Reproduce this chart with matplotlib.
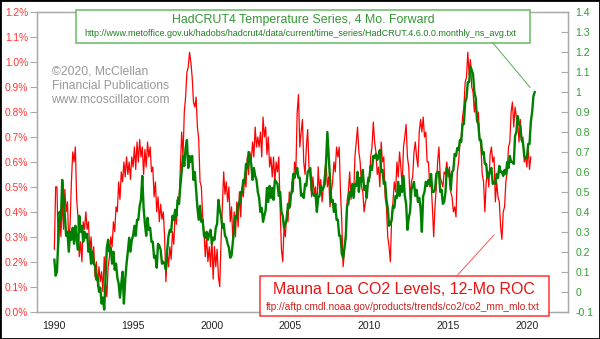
import numpy as np
import matplotlib
matplotlib.use("Agg")
import matplotlib.pyplot as plt
from matplotlib.patches import Rectangle
from matplotlib.lines import Line2D

plt.rcParams['font.family'] = ['Liberation Sans', 'DejaVu Sans']

# ------------------ DATA (monthly, starting Jan 1990) ------------------

START_YEAR = 1990

# Mauna Loa CO2, 12-month rate of change, in percent (left axis)
co2_roc = [
    0.25, 0.50, 0.50, 0.24, 0.40, 0.30, 0.45, 0.33, 0.49, 0.40, 0.44, 0.27,  # 1990
    0.35, 0.52, 0.64, 0.60, 0.66, 0.45, 0.38, 0.22, 0.28, 0.20, 0.36, 0.33,  # 1991
    0.40, 0.33, 0.36, 0.24, 0.30, 0.20, 0.26, 0.14, 0.20, 0.10, 0.18, 0.12,  # 1992
    0.16, 0.08, 0.22, 0.12, 0.06, 0.18, 0.22, 0.30, 0.26, 0.36, 0.32, 0.42,  # 1993
    0.40, 0.52, 0.45, 0.56, 0.52, 0.60, 0.54, 0.62, 0.55, 0.60, 0.53, 0.62,  # 1994
    0.58, 0.66, 0.57, 0.68, 0.60, 0.69, 0.62, 0.66, 0.55, 0.65, 0.58, 0.68,  # 1995
    0.62, 0.66, 0.56, 0.58, 0.46, 0.52, 0.40, 0.46, 0.36, 0.43, 0.37, 0.40,  # 1996
    0.30, 0.12, 0.24, 0.18, 0.26, 0.21, 0.32, 0.27, 0.40, 0.35, 0.46, 0.44,  # 1997
    0.58, 0.72, 0.62, 0.80, 0.86, 0.96, 0.98, 1.04, 1.00, 0.94, 0.84, 0.82,  # 1998
    0.86, 0.74, 0.69, 0.52, 0.50, 0.38, 0.32, 0.22, 0.30, 0.20, 0.26, 0.18,  # 1999
    0.30, 0.13, 0.26, 0.18, 0.25, 0.14, 0.10, 0.28, 0.42, 0.56, 0.47, 0.52,  # 2000
    0.44, 0.50, 0.36, 0.42, 0.28, 0.40, 0.30, 0.44, 0.34, 0.48, 0.38, 0.50,  # 2001
    0.46, 0.54, 0.50, 0.62, 0.55, 0.64, 0.60, 0.68, 0.62, 0.74, 0.66, 0.70,  # 2002
    0.66, 0.72, 0.62, 0.78, 0.70, 0.74, 0.63, 0.70, 0.58, 0.62, 0.54, 0.62,  # 2003
    0.52, 0.60, 0.56, 0.62, 0.42, 0.25, 0.20, 0.34, 0.30, 0.40, 0.36, 0.48,  # 2004
    0.42, 0.52, 0.48, 0.60, 0.56, 0.80, 0.87, 0.66, 0.72, 0.77, 0.60, 0.55,  # 2005
    0.66, 0.73, 0.58, 0.54, 0.46, 0.54, 0.47, 0.50, 0.40, 0.58, 0.49, 0.53,  # 2006
    0.44, 0.50, 0.56, 0.60, 0.50, 0.54, 0.42, 0.48, 0.52, 0.60, 0.56, 0.66,  # 2007
    0.62, 0.66, 0.48, 0.36, 0.18, 0.24, 0.32, 0.44, 0.48, 0.56, 0.45, 0.50,  # 2008
    0.46, 0.62, 0.68, 0.74, 0.64, 0.60, 0.50, 0.48, 0.40, 0.44, 0.46, 0.54,  # 2009
    0.52, 0.62, 0.66, 0.76, 0.68, 0.64, 0.55, 0.58, 0.50, 0.68, 0.60, 0.62,  # 2010
    0.46, 0.42, 0.30, 0.26, 0.20, 0.38, 0.44, 0.52, 0.48, 0.60, 0.54, 0.64,  # 2011
    0.58, 0.50, 0.66, 0.70, 0.75, 0.62, 0.58, 0.45, 0.52, 0.54, 0.64, 0.68,  # 2012
    0.62, 0.58, 0.72, 0.77, 0.72, 0.78, 0.70, 0.72, 0.60, 0.60, 0.50, 0.52,  # 2013
    0.42, 0.30, 0.42, 0.50, 0.60, 0.66, 0.54, 0.52, 0.50, 0.56, 0.55, 0.60,  # 2014
    0.54, 0.58, 0.48, 0.46, 0.40, 0.42, 0.38, 0.56, 0.60, 0.68, 0.70, 0.78,  # 2015
    0.82, 0.92, 0.94, 1.04, 0.95, 1.01, 0.90, 0.88, 0.80, 0.86, 0.76, 0.80,  # 2016
    0.70, 0.66, 0.55, 0.52, 0.40, 0.52, 0.56, 0.50, 0.63, 0.66, 0.60, 0.62,  # 2017
    0.44, 0.52, 0.46, 0.44, 0.34, 0.29, 0.40, 0.42, 0.52, 0.56, 0.66, 0.68,  # 2018
    0.80, 0.84, 0.74, 0.82, 0.78, 0.76, 0.68, 0.77, 0.68, 0.70, 0.60, 0.62,  # 2019
    0.58, 0.66, 0.57, 0.62,                                                  # 2020
]

# HadCRUT4 temperature anomaly, shifted 4 months forward (right axis)
hadcrut = [
    0.16, 0.08, 0.10, 0.26, 0.40, 0.36, 0.56, 0.46, 0.38, 0.28, 0.30, 0.20,  # 1990
    0.30, 0.26, 0.32, 0.24, 0.33, 0.26, 0.21, 0.38, 0.30, 0.33, 0.25, 0.30,  # 1991
    0.27, 0.29, 0.20, 0.22, 0.14, 0.20, 0.14, 0.13, 0.06, 0.07, 0.00, 0.02,  # 1992
    -0.06, -0.03, -0.09, 0.06, 0.22, 0.26, 0.20, 0.22, 0.14, 0.20, 0.11, 0.14,  # 1993
    0.07, 0.04, -0.03, 0.04, 0.10, -0.06, 0.06, 0.14, 0.20, 0.27, 0.20, 0.26,  # 1994
    0.28, 0.33, 0.28, 0.36, 0.36, 0.43, 0.46, 0.58, 0.42, 0.34, 0.28, 0.37,  # 1995
    0.31, 0.32, 0.25, 0.25, 0.17, 0.18, 0.12, 0.24, 0.23, 0.21, 0.14, 0.15,  # 1996
    0.14, 0.11, 0.21, 0.28, 0.31, 0.30, 0.38, 0.36, 0.41, 0.38, 0.46, 0.44,  # 1997
    0.53, 0.60, 0.68, 0.63, 0.72, 0.76, 0.62, 0.68, 0.65, 0.68, 0.56, 0.60,  # 1998
    0.51, 0.42, 0.36, 0.43, 0.35, 0.36, 0.28, 0.27, 0.30, 0.26, 0.29, 0.31,  # 1999
    0.24, 0.27, 0.26, 0.32, 0.34, 0.46, 0.41, 0.38, 0.32, 0.34, 0.28, 0.27,  # 2000
    0.24, 0.22, 0.17, 0.18, 0.25, 0.31, 0.38, 0.37, 0.44, 0.44, 0.50, 0.50,  # 2001
    0.56, 0.55, 0.64, 0.62, 0.70, 0.67, 0.64, 0.56, 0.62, 0.58, 0.56, 0.50,  # 2002
    0.47, 0.40, 0.42, 0.35, 0.38, 0.41, 0.52, 0.45, 0.53, 0.47, 0.52, 0.46,  # 2003
    0.56, 0.55, 0.54, 0.48, 0.50, 0.40, 0.38, 0.32, 0.34, 0.36, 0.44, 0.42,  # 2004
    0.48, 0.50, 0.59, 0.57, 0.60, 0.62, 0.57, 0.57, 0.48, 0.49, 0.47, 0.54,  # 2005
    0.53, 0.60, 0.61, 0.62, 0.51, 0.49, 0.48, 0.49, 0.40, 0.47, 0.48, 0.53,  # 2006
    0.51, 0.52, 0.54, 0.65, 0.80, 0.68, 0.57, 0.45, 0.46, 0.40, 0.44, 0.36,  # 2007
    0.36, 0.28, 0.28, 0.19, 0.17, 0.22, 0.27, 0.43, 0.44, 0.50, 0.48, 0.54,  # 2008
    0.47, 0.54, 0.53, 0.60, 0.50, 0.57, 0.55, 0.61, 0.51, 0.53, 0.47, 0.56,  # 2009
    0.57, 0.63, 0.61, 0.68, 0.67, 0.69, 0.66, 0.68, 0.71, 0.60, 0.61, 0.54,  # 2010
    0.55, 0.46, 0.42, 0.33, 0.34, 0.36, 0.43, 0.42, 0.48, 0.47, 0.55, 0.48,  # 2011
    0.53, 0.50, 0.58, 0.48, 0.44, 0.31, 0.37, 0.40, 0.51, 0.53, 0.55, 0.48,  # 2012
    0.51, 0.45, 0.47, 0.42, 0.30, 0.48, 0.50, 0.55, 0.53, 0.56, 0.54, 0.59,  # 2013
    0.50, 0.50, 0.51, 0.59, 0.60, 0.60, 0.50, 0.51, 0.44, 0.45, 0.50, 0.62,  # 2014
    0.60, 0.59, 0.51, 0.60, 0.61, 0.69, 0.68, 0.72, 0.71, 0.76, 0.75, 0.84,  # 2015
    0.84, 0.95, 0.97, 1.05, 1.05, 1.13, 1.11, 1.09, 1.00, 0.97, 0.86, 0.84,  # 2016
    0.76, 0.76, 0.69, 0.70, 0.64, 0.64, 0.57, 0.58, 0.61, 0.62, 0.54, 0.55,  # 2017
    0.54, 0.59, 0.57, 0.63, 0.60, 0.60, 0.58, 0.61, 0.59, 0.65, 0.62, 0.68,  # 2018
    0.65, 0.65, 0.64, 0.78, 0.80, 0.88, 0.84, 0.83, 0.76, 0.75, 0.68, 0.67,  # 2019
    0.67, 0.74, 0.74, 0.85, 0.90, 0.98, 1.00,                                # 2020
]

year_ticks = [1990, 1995, 2000, 2005, 2010, 2015, 2020]
left_ticks = [0.0, 0.1, 0.2, 0.3, 0.4, 0.5, 0.6, 0.7, 0.8, 0.9, 1.0, 1.1, 1.2]
left_labels = ["0.0%", "0.1%", "0.2%", "0.3%", "0.4%", "0.5%", "0.6%",
               "0.7%", "0.8%", "0.9%", "1.0%", "1.1%", "1.2%"]
right_ticks = [-0.1, 0.0, 0.1, 0.2, 0.3, 0.4, 0.5, 0.6, 0.7,
               0.8, 0.9, 1.0, 1.1, 1.2, 1.3, 1.4]
right_labels = ["-0.1", "0", "0.1", "0.2", "0.3", "0.4", "0.5", "0.6", "0.7",
                "0.8", "0.9", "1", "1.1", "1.2", "1.3", "1.4"]

# ------------------ PLOT ------------------

W, H = 600, 339


def fx(px):
    return px / W


def fy(py):
    return 1 - py / H


co2_x = START_YEAR + np.arange(len(co2_roc)) / 12.0
had_x = START_YEAR + np.arange(len(hadcrut)) / 12.0

fig = plt.figure(figsize=(6.0, 3.39), dpi=100)
fig.patch.set_facecolor("white")

ax = fig.add_axes([fx(36.7), fy(311.6), fx(568.3) - fx(36.7), fy(12.3) - fy(311.6)])
ax2 = ax.twinx()

ax.plot(co2_x, co2_roc, color="#ff0000", lw=0.9)
ax2.plot(had_x, hadcrut, color="#008000", lw=1.7)

ax.set_xlim(1988.88, 2022.63)
ax.set_ylim(0, 1.2)
ax2.set_ylim(-0.1, 1.4)

ax.set_xticks(year_ticks)
ax.set_xticklabels([str(y) for y in year_ticks])
ax.set_yticks(left_ticks)
ax.set_yticklabels(left_labels)
ax2.set_yticks(right_ticks)
ax2.set_yticklabels(right_labels)

for a in (ax, ax2):
    for s in a.spines.values():
        s.set_color("#a8a8a8")
        s.set_linewidth(0.9)

ax.tick_params(axis="x", length=0, pad=7, labelsize=7.6, labelcolor="#222222")
ax.tick_params(axis="y", direction="out", length=5, width=0.8, color="#a8a8a8",
               pad=1, labelsize=7.4, labelcolor="#ff3333")
ax2.tick_params(axis="y", direction="in", length=5, width=0.8, color="#a8a8a8",
                pad=5, labelsize=7.6, labelcolor="#2e9e2e")

# ---- green label box (top) ----
fig.add_artist(Rectangle((fx(76), fy(42.7)), fx(530) - fx(76), fy(10) - fy(42.7),
                         transform=fig.transFigure, facecolor="white",
                         edgecolor="#66bb66", lw=1.1, zorder=5))
fig.text(fx(303), fy(20), "HadCRUT4 Temperature Series, 4 Mo. Forward",
         ha="center", va="center", fontsize=8.9, color="#339933", zorder=6)
fig.text(fx(300.5), fy(34), "http://www.metoffice.gov.uk/hadobs/hadcrut4/data/current/"
         "time_series/HadCRUT.4.6.0.0.monthly_ns_avg.txt",
         ha="center", va="center", fontsize=6.5, color="#1f7f1f", zorder=6)
fig.add_artist(Line2D([fx(492.7), fx(530)], [fy(42.7), fy(87.3)],
                      transform=fig.transFigure, color="#55aa55", lw=0.7, zorder=5))

# ---- red label box (bottom) ----
fig.add_artist(Rectangle((fx(260), fy(315.5)), fx(549) - fx(260), fy(276) - fy(315.5),
                         transform=fig.transFigure, facecolor="white",
                         edgecolor="#ff3333", lw=1.1, zorder=5))
fig.text(fx(404), fy(290), "Mauna Loa CO2 Levels, 12-Mo ROC",
         ha="center", va="center", fontsize=11.5, color="#ee1111", zorder=6)
fig.text(fx(403), fy(307.5), "ftp://aftp.cmdl.noaa.gov/products/trends/co2/co2_mm_mlo.txt",
         ha="center", va="center", fontsize=7.3, color="#cc2222", zorder=6)
fig.add_artist(Line2D([fx(456.7), fx(494)], [fy(276), fy(235)],
                      transform=fig.transFigure, color="#ff5555", lw=0.7, zorder=5))

# ---- copyright ----
for i, line in enumerate(["\u00a92020, McClellan", "Financial Publications",
                          "www.mcoscillator.com"]):
    fig.text(fx(51.5), fy(71 + 14.5 * i), line, ha="left", va="center",
             fontsize=8.7, color="#999999")

# black frame round the picture
fig.add_artist(Rectangle((0, 0), 1, 1, transform=fig.transFigure, fill=False,
                         edgecolor="black", lw=2, zorder=10))

fig.savefig("out.png", dpi=100, facecolor="white")
